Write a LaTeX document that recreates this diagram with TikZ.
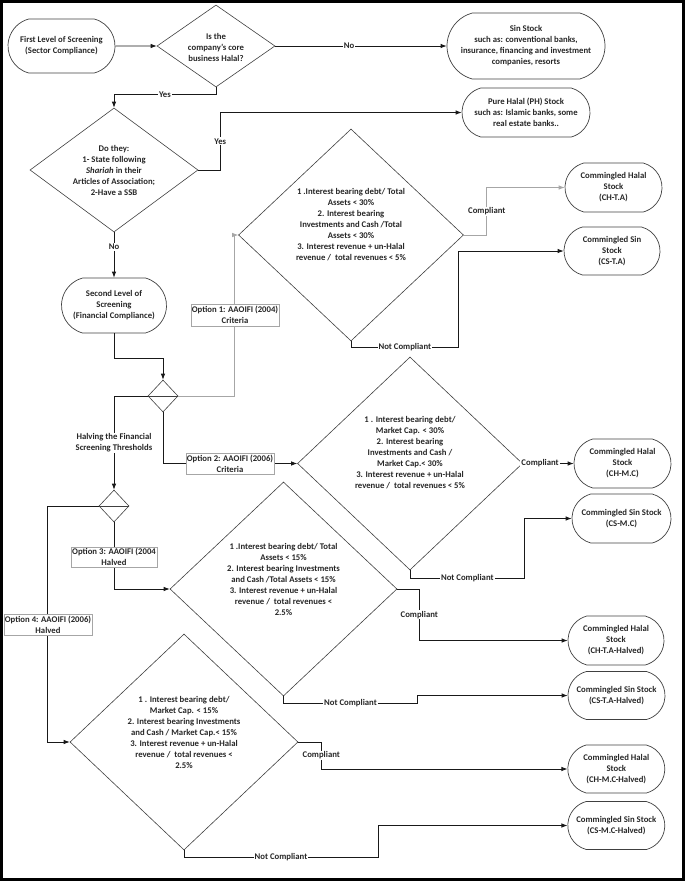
\documentclass[tikz,border=0pt]{standalone}
\usepackage{fontspec}
\setmainfont{Carlito}
\usetikzlibrary{arrows.meta,shapes.geometric,shapes.misc}
\tikzset{
	every node/.style={font=\fontsize{8.7}{11}\selectfont\bfseries, text=black!85},
	stock/.style={rounded rectangle, rounded rectangle arc length=150, draw=black!75, line width=0.7pt, align=center, inner sep=0pt},
	query/.style={diamond, draw=black!75, line width=0.6pt, inner sep=0pt},
	qtext/.style={align=center, inner sep=0pt},
	optbox/.style={draw=black!35, fill=white, line width=0.6pt, align=center, inner sep=1pt},
	lbl/.style={fill=white, inner sep=1pt},
	arr/.style={draw=black!90, line width=0.8pt, -{Latex[length=6pt,width=4.5pt]}},
	optline/.style={draw=black!35, line width=0.8pt, -{Latex[length=6pt,width=4.5pt]}},
}

\begin{document}
\begin{tikzpicture}[x=1pt,y=-1pt]
		%%%%% START %%%%%
		\useasboundingbox (0,0) rectangle (685,881);
		\draw[line width=3pt] (1.5,1.5) rectangle (683.5,879.5);
		
		% first level
		\node[stock, minimum width=107pt, minimum height=54pt] (first) at (61.5,46) {First Level of Screening\\(Sector Compliance)};
		\node[query, minimum width=118pt, minimum height=82pt] (q1) at (216,46) {};
		\node[qtext] (q1t) at (216,47) {Is the\\company’s core\\business Halal?};
		\node[stock, minimum width=158pt, minimum height=66pt] (sin) at (526,46) {Sin Stock\\such as: conventional banks,\\insurance, financing and investment\\companies, resorts};
		\node[stock, minimum width=128pt, minimum height=49pt] (halal) at (526,112.5) {Pure Halal (PH) Stock\\such as: Islamic banks, some\\real estate banks..};
		\node[query, minimum width=168pt, minimum height=124pt] (q2) at (114,170) {};
		\node[qtext] (q2t) at (114,170.5) {Do they:\\1- State following\\\textit{Shariah} in their\\Articles of Association;\\2-Have a SSB};
		
		% second level
		\node[stock, minimum width=105pt, minimum height=55pt] (second) at (114,305.5) {Second Level of\\Screening\\(Financial Compliance)};
		\node[query, minimum width=30pt, minimum height=32pt] (split) at (163,396) {};
		\draw[draw=black!75, line width=0.6pt] (split.west) -- (split.east);
		\node[query, minimum width=30pt, minimum height=32pt] (half) at (114,506) {};
		\draw[draw=black!75, line width=0.6pt] (half.west) -- (half.east);
		
		% criteria
		\node[query, minimum width=225pt, minimum height=212pt] (c1) at (351,235) {};
		\node[qtext] (c1t) at (351,225) {1 .Interest bearing debt/ Total\\Assets < 30\%\\2. Interest bearing\\Investments and Cash /Total\\Assets < 30\%\\3. Interest revenue + un-Halal\\revenue /~ total revenues < 5\%};
		\node[query, minimum width=225pt, minimum height=213pt] (c2) at (410,463.5) {};
		\node[qtext] (c2t) at (410,453) {1 . Interest bearing debt/\\Market Cap. < 30\%\\2. Interest bearing\\Investments and Cash /\\Market Cap.< 30\%\\3. Interest revenue + un-Halal\\revenue /~ total revenues < 5\%};
		\node[query, minimum width=227pt, minimum height=214pt] (c3) at (283.5,589) {};
		\node[qtext] (c3t) at (283.5,579) {1 .Interest bearing debt/ Total\\Assets < 15\%\\2. Interest bearing Investments\\and Cash /Total Assets < 15\%\\3. Interest revenue + un-Halal\\revenue /~ total revenues <\\2.5\%};
		\node[query, minimum width=228pt, minimum height=216pt] (c4) at (184,742) {};
		\node[qtext] (c4t) at (184,732.5) {1 . Interest bearing debt/\\Market Cap. < 15\%\\2. Interest bearing Investments\\and Cash / Market Cap.< 15\%\\3. Interest revenue + un-Halal\\revenue /~ total revenues <\\2.5\%};
		
		% commingled stocks
		\node[stock, minimum width=97pt, minimum height=49pt] (cht) at (613.5,187.5) {Commingled Halal\\Stock\\(CH-T.A)};
		\node[stock, minimum width=96pt, minimum height=48pt] (cst) at (612,251) {Commingled Sin\\Stock\\(CS-T.A)};
		\node[stock, minimum width=97pt, minimum height=49pt] (chm) at (622.5,463.5) {Commingled Halal\\Stock\\(CH-M.C)};
		\node[stock, minimum width=99pt, minimum height=49pt] (csm) at (621.5,518.5) {Commingled Sin Stock\\(CS-M.C)};
		\node[stock, minimum width=96pt, minimum height=49pt] (chth) at (616,640.5) {Commingled Halal\\Stock\\(CH-T.A-Halved)};
		\node[stock, minimum width=97pt, minimum height=48pt] (csth) at (616.5,695.5) {Commingled Sin Stock\\(CS-T.A-Halved)};
		\node[stock, minimum width=97pt, minimum height=48pt] (chmh) at (616.3,769) {Commingled Halal\\Stock\\(CH-M.C-Halved)};
		\node[stock, minimum width=97pt, minimum height=48pt] (csmh) at (616.3,825.5) {Commingled Sin Stock\\(CS-M.C-Halved)};
		
		% connectors
		\draw[arr] (first) -- (q1);
		\draw[arr] (q1.east) -- node[lbl, pos=0.43] {No} (sin.west);
		\draw[arr] (q1.south) -- ++(0,7) -| node[lbl, pos=0.25] {Yes} (q2.north);
		\draw[arr] (q2.east) -- ++(22,0) |- node[lbl, pos=0.25] {Yes} (halal.west);
		\draw[arr] (q2.south) -- node[lbl, pos=0.32] {No} (second.north);
		\draw[arr] (second.south) -- ++(0,25) -| (split.north);
		
		\draw[optline] (split.east) -| ([xshift=-4pt]c1.west) -- (c1.west);
		\draw[arr] (split.west) -| node[lbl, pos=0.75, align=center] {Halving the Financial\\Screening Thresholds} (half.north);
		\draw[arr] (split.south) |- (c2.west);
		\draw[arr] (half.south) |- (c3.west);
		\draw[arr] (half.west) -- ++(-51,0) |- (c4.west);
		
		\draw[optline] (c1.east) -- ++(23,0) |- node[lbl, pos=0.25] {Compliant} (cht.west);
		\draw[arr] (c1.south) -- ++(0,6) -| node[lbl, pos=0.25] {Not Compliant} ([xshift=-105pt]cst.west) -- (cst.west);
		\draw[arr] (c2.east) -- node[lbl, pos=0.34] {Compliant} (chm.west);
		\draw[arr] (c2.south) -- ++(0,8) -| node[lbl, pos=0.25] {Not Compliant} ([xshift=-47pt]csm.west) -- (csm.west);
		\draw[arr] (c3.east) -- ++(22,0) |- node[lbl, pos=0.25] {Compliant} (chth.west);
		\draw[arr] (c3.south) -- ++(0,7) -- node[lbl] {Not Compliant} ++(134,0) |- (csth.west);
		\draw[arr] (c4.east) -- ++(23,0) |- node[lbl, pos=0.25] {Compliant} (chmh.west);
		\draw[arr] (c4.south) -- ++(0,7) -| node[lbl, pos=0.25] {Not Compliant} ([xshift=-189.5pt]csmh.west) -- (csmh.west);
		
		% option labels
		\node[optbox, minimum width=86pt, minimum height=22pt] (o1) at (235,315) {Option 1: AAOIFI (2004)\\Criteria};
		\node[optbox, minimum width=86pt, minimum height=21pt] (o2) at (230,463.5) {Option 2: AAOIFI (2006)\\Criteria};
		\node[optbox, minimum width=84pt, minimum height=20pt] (o3) at (114,557) {Option 3: AAOIFI (2004\\Halved};
		\node[optbox, minimum width=87pt, minimum height=21pt] (o4) at (48,625) {Option 4: AAOIFI (2006)\\Halved};
		
		%%%%% END %%%%%
	\end{tikzpicture}
\end{document}
